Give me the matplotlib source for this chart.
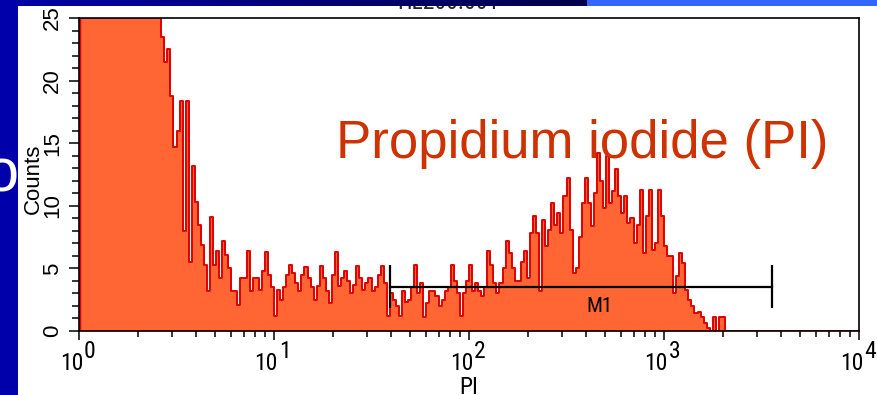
import numpy as np
import matplotlib
matplotlib.use("Agg")
import matplotlib.pyplot as plt
from matplotlib import font_manager as fm
import matplotlib.transforms as mtransforms
from matplotlib.patches import Rectangle

# ---------------- data ----------------
# 256 log-spaced channels from 10^0 to 10^4 (instrument scale)
counts_offscale = [25] * 27
counts_decline = [23.5, 21.5, 22.5, 18.8, 14.7, 16.0, 18.4, 8.0, 18.4, 5.5,
                  13.2, 10.3, 8.5, 6.9, 5.3, 3.2, 9.1, 5.3, 6.4, 4.2,
                  7.2, 6.1, 5.0, 3.2, 3.2, 2.1, 4.2, 4.2, 6.4, 3.2, 4.2]
counts_plateau = [4.2, 3.3, 4.8, 6.3, 4.5, 3.5, 1.2, 3.3, 2.5, 3.5,
                  4.5, 5.3, 4.6, 3.8, 3.2, 4.5, 5.1, 4.2, 3.5, 2.5,
                  3.6, 5.2, 4.2, 3.2, 2.2, 4.5, 6.3, 3.6, 4.2, 4.8,
                  4.0, 3.0, 3.7, 5.2, 4.2, 3.3, 3.8, 4.2, 3.2, 3.5,
                  4.5, 5.2, 3.8, 1.2, 3.0, 2.5, 2.0, 1.2, 3.2, 2.3,
                  2.5, 3.5, 5.3, 3.0, 3.8, 1.1, 2.2, 3.2, 3.2, 2.8,
                  2.0, 2.5, 3.2, 3.5, 5.3, 4.0, 3.0, 1.2, 3.0, 4.0,
                  5.3, 3.2, 3.8, 3.2, 2.8, 3.5, 6.4, 5.3, 3.8, 3.0,
                  3.8, 5.0, 7.2, 6.2, 5.0, 4.0, 4.0, 5.5]
counts_peak = [6.4, 4.2, 7.8, 9.2, 7.8, 3.2, 8.9, 6.8, 8.1, 10.2,
               8.5, 9.4, 7.8, 10.8, 12.2, 8.1, 4.6, 5.0, 7.5, 10.2,
               12.2, 10.2, 8.4, 11.0, 14.2, 12.0, 9.8, 14.0, 10.2, 11.2,
               12.9, 10.8, 9.4, 10.8, 8.6, 9.0, 7.0, 8.5, 11.3, 6.2,
               9.2, 11.3, 6.5, 7.0, 11.3, 9.2, 6.8, 6.0, 6.0, 3.0,
               4.4, 6.2, 5.4, 3.3, 2.5, 2.0, 1.4, 1.5, 1.1, 0.6,
               0.2, 0.0, 1.1, 0.0, 1.1, 1.1]
counts_tail = [0] * 44

x_min, x_max = 1, 1e4
y_min, y_max = 0, 25
y_ticks = [0, 5, 10, 15, 20, 25]
x_decades = [0, 1, 2, 3, 4]

m1_lo, m1_hi, m1_level = 39.3, 3580, 3.5
m1_cap_lo, m1_cap_hi = 1.85, 5.3
m1_label_x, m1_label_y = 464, 1.96

title_text = "HL200.001"
overlay_text = "Propidium iodide (PI)"
x_label = "PI"
y_label = "Counts"

# ---------------- fonts ----------------
def pick(names):
    avail = {f.name for f in fm.fontManager.ttflist}
    for n in names:
        if n in avail:
            return n
    return "DejaVu Sans"

NARROW = pick(["Liberation Sans Narrow", "Arial Narrow", "Roboto Condensed", "Liberation Sans"])
REG = pick(["Liberation Sans", "Arial", "DejaVu Sans"])

FILL = "#FF6633"
EDGE = "#E00000"
BG_BLUE = "#0000AA"

counts = np.array(counts_offscale + counts_decline + counts_plateau + counts_peak + counts_tail, float)
n = len(counts)
edges = np.logspace(np.log10(x_min), np.log10(x_max), n + 1)
vals = np.append(counts, counts[-1])

W, H = 877, 395
fig = plt.figure(figsize=(W / 100, H / 100), dpi=100, facecolor=BG_BLUE)

# white slide panel
fig.patches.append(Rectangle((18 / W, 0), 1 - 18 / W, 1 - 6 / H, transform=fig.transFigure,
                             facecolor="white", edgecolor="none", zorder=-5))

ax = fig.add_axes([79 / W, 64 / H, (859 - 79) / W, (331 - 18) / H])
ax.set_facecolor("white")
ax.fill_between(edges, vals, step="post", color=FILL, lw=0, zorder=1)
ax.step(edges, vals, where="post", color=EDGE, lw=1.4, zorder=2)
ax.vlines(edges[0], 0, min(counts[0], y_max), color=EDGE, lw=2.5, zorder=2)

ax.set_xscale("log")
ax.set_xlim(x_min, x_max)
ax.set_ylim(y_min, y_max)

for s in ax.spines.values():
    s.set_linewidth(1.2)
    s.set_color("black")
    s.set_zorder(3)

ax.set_yticks(y_ticks)
ax.set_yticks(np.arange(y_min, y_max + 1, 1), minor=True)
ax.set_yticklabels([str(t) for t in y_ticks])
ax.tick_params(axis="y", which="major", direction="out", length=7.5, width=1.1, pad=4,
               labelsize=16)
ax.tick_params(axis="y", which="minor", direction="out", length=5, width=1.1)
for lab in ax.get_yticklabels():
    lab.set_rotation(90)
    lab.set_va("center")
    lab.set_ha("right")
    lab.set_fontfamily(REG)

ax.set_xticks([10.0 ** d for d in x_decades])
ax.set_xticklabels([""] * len(x_decades))
ax.xaxis.set_minor_locator(matplotlib.ticker.LogLocator(base=10, subs=np.arange(2, 10)))
ax.xaxis.set_minor_formatter(matplotlib.ticker.NullFormatter())
ax.tick_params(axis="x", which="major", direction="out", length=6.5, width=1.1)
ax.tick_params(axis="x", which="minor", direction="out", length=4, width=1.1)

trans = mtransforms.blended_transform_factory(ax.transData, ax.transAxes)
for d in x_decades:
    tb = mtransforms.offset_copy(trans, fig=fig, x=4, y=-39, units="dots")
    ts = mtransforms.offset_copy(trans, fig=fig, x=5, y=-27, units="dots")
    ax.text(10.0 ** d, 0, "10", transform=tb, ha="right", va="baseline",
            fontsize=17, family=NARROW, clip_on=False)
    ax.text(10.0 ** d, 0, str(d), transform=ts, ha="left", va="baseline",
            fontsize=17, family=NARROW, clip_on=False)

# M1 marker
ax.plot([m1_lo, m1_hi], [m1_level, m1_level], color="black", lw=1.6, zorder=4)
ax.vlines([m1_lo, m1_hi], m1_cap_lo, m1_cap_hi, color="black", lw=1.6, zorder=4)
ax.text(m1_label_x, m1_label_y, "M1", ha="center", va="center", fontsize=15,
        family=NARROW, zorder=4)

# axis labels
fig.text(33 / W, 1 - 179 / H, y_label, rotation=90, ha="center", va="center",
         fontsize=16, family=REG)
fig.text(469 / W, 1 / H, x_label, ha="center", va="baseline", fontsize=17, family=NARROW)

# overlay slide text
fig.text(336 / W, 1 - 158 / H, overlay_text, ha="left", va="baseline", fontsize=38,
         family=REG, color="#CC3300", zorder=20)
fig.text(1 / W, 1 - 176 / H, "o", ha="center", va="center", fontsize=44, family=REG,
         color="white", zorder=20)

# file title (mostly hidden under slide strip)
fig.text(448 / W, 1 - 9 / H, title_text, ha="center", va="baseline", fontsize=17,
         family=NARROW, color="#222222", zorder=5)

# top slide strip
sax = fig.add_axes([0, 1 - 6 / H, 1, 6 / H], zorder=30)
xs = np.arange(W)
strip = np.zeros((1, W, 3))
t = np.clip(xs / 580.0, 0, 1)
strip[0, :, 2] = (170 - 95 * t) / 255.0
light = xs >= 587
strip[0, light, 0] = 51 / 255
strip[0, light, 1] = 102 / 255
strip[0, light, 2] = 1.0
sax.imshow(strip, aspect="auto", extent=(0, W, 0, 1), interpolation="nearest")
sax.set_axis_off()

fig.savefig("out.png", dpi=100, facecolor=fig.get_facecolor())
